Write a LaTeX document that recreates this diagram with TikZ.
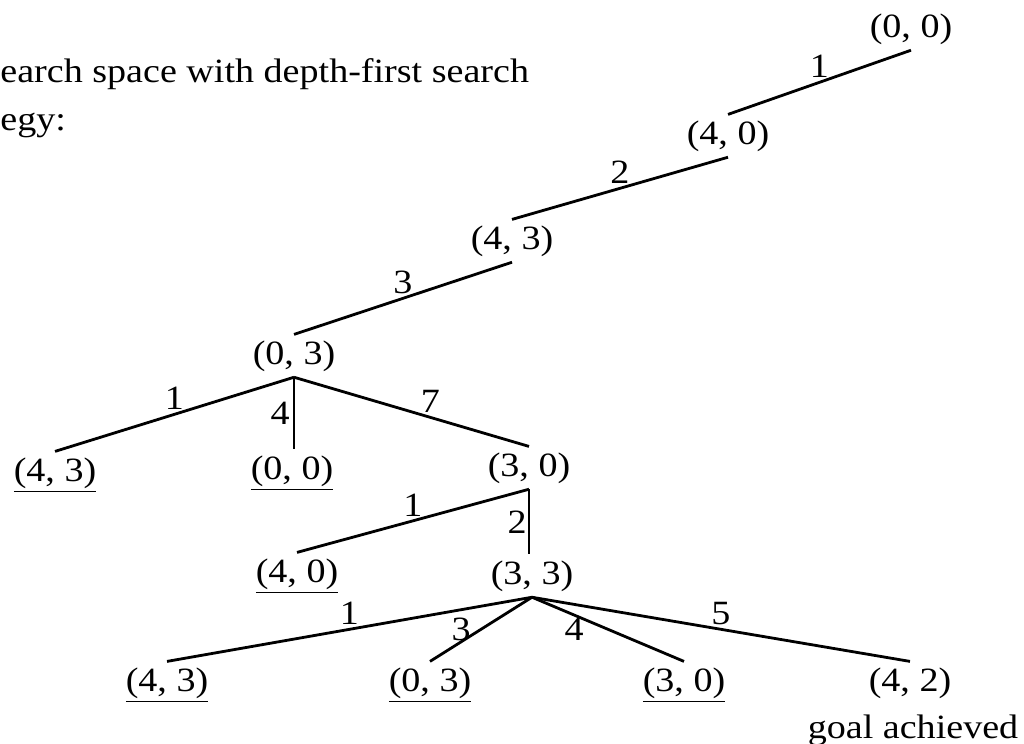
\documentclass[tikz,border=0pt]{standalone}
\usepackage{fontspec}
\setmainfont{Liberation Serif}[FakeStretch=1.12]
\usetikzlibrary{positioning}

\tikzset{
  st/.style={inner sep=0pt, outer sep=3pt, anchor=base},
  lbl/.style={inner sep=1.5pt},
}

\begin{document}
\begin{tikzpicture}[x=0.5pt, y=-0.5pt, line width=1.4pt,
  every node/.style={font=\fontsize{17pt}{20pt}\selectfont}]
\useasboundingbox (0,0) rectangle (1024,744);

\node[anchor=base west, inner sep=0pt] (head1) at (-1,83) {earch space with depth-first search};
\node[anchor=base west, inner sep=0pt] (head2) at (-1,130) {egy:};

% path down to (0, 3)
\node[st] (s00) at (911,37) {(0, 0)};
\node[st] (s40) at (728,144) {(4, 0)};
\node[st] (s43) at (512,249) {(4, 3)};
\node[st] (s03) at (294,364) {(0, 3)};

% children of (0, 3)
\node[st] (a43) at (55,481) {\underline{(4, 3)}};
\node[st] (a00) at (292,479) {\underline{(0, 0)}};
\node[st] (a30) at (529,476) {(3, 0)};

% children of (3, 0)
\node[st] (b40) at (297,582) {\underline{(4, 0)}};
\node[st] (b33) at (532,584) {(3, 3)};

% children of (3, 3)
\node[st] (c43) at (167,691) {\underline{(4, 3)}};
\node[st] (c03) at (430,691) {\underline{(0, 3)}};
\node[st] (c30) at (684,691) {\underline{(3, 0)}};
\node[st] (c42) at (910,691) {(4, 2)};
\node[anchor=base, inner sep=0pt] (goal) at (913,738) {goal achieved};

\draw (s00.south) -- (s40.north) node[lbl, midway, above] {1};
\draw (s40.south) -- (s43.north) node[lbl, midway, above] {2};
\draw (s43.south) -- (s03.north) node[lbl, midway, above] {3};

\draw (s03.south) -- (a43.north) node[lbl, midway, above] {1};
\draw (s03.south) -- (s03.south |- a00.north) node[lbl, midway, left] {4};
\draw (s03.south) -- (a30.north) node[lbl, pos=0.58, above] {7};

\draw (a30.south) -- (b40.north) node[lbl, midway, above] {1};
\draw (a30.south) -- (a30.south |- b33.north) node[inner sep=0.5pt, midway, left] {2};

\draw (b33.south) -- (c43.north) node[lbl, midway, above] {1};
\draw (b33.south) -- (c03.north) node[lbl, midway, left=3pt] {3};
\draw (b33.south) -- (c30.north) node[lbl, midway, left=10pt] {4};
\draw (b33.south) -- (c42.north) node[lbl, midway, above] {5};
\end{tikzpicture}
\end{document}
